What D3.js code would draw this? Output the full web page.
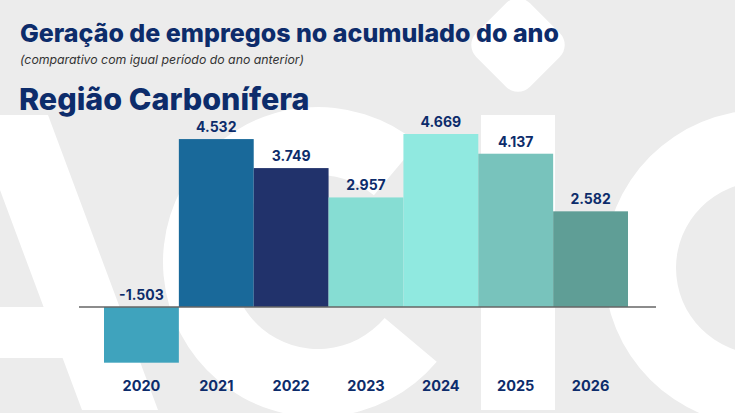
<!DOCTYPE html>
<html>
<head>
<meta charset="utf-8">
<script src="https://cdn.jsdelivr.net/npm/d3@7"></script>
<style>
  html, body { margin: 0; padding: 0; background: #ececec; }
  svg { display: block; font-family: Inter, "Noto Sans", sans-serif; }
</style>
</head>
<body>
<svg id="chart"></svg>
<script>
// data
const years = ['2020', '2021', '2022', '2023', '2024', '2025', '2026'];
const values = [-1503, 4532, 3749, 2957, 4669, 4137, 2582];
const valueLabels = ['-1.503', '4.532', '3.749', '2.957', '4.669', '4.137', '2.582'];
const barColors = ['#3fa3bd', '#19699a', '#21326b', '#86ddd3', '#90e9e0', '#78c3bc', '#5f9e96'];

const width = 735, height = 413;
const navy = '#0d2c6b';

const svg = d3.select('#chart')
    .attr('width', width)
    .attr('height', height);

svg.append('rect')
    .attr('width', width)
    .attr('height', height)
    .attr('fill', '#ececec');

// watermark letters (white shapes in the background)
const bg = svg.append('g').attr('fill', '#ffffff');

// "A" right leg + crossbar
bg.append('polygon')
    .attr('points', '-60,115 48,115 158,410 82,410 -28,115');
bg.append('rect')
    .attr('x', -10).attr('y', 307).attr('width', 80).attr('height', 51);

// first "C"
const arcC = d3.arc();
bg.append('path')
    .attr('transform', 'translate(318,262)')
    .attr('d', arcC({ innerRadius: 87, outerRadius: 155,
        startAngle: 130 * Math.PI / 180, endAngle: 400 * Math.PI / 180 }));

// "I"
bg.append('rect')
    .attr('x', 481).attr('y', 115).attr('width', 74).attr('height', 295);

// second "C"
bg.append('path')
    .attr('transform', 'translate(762,268)')
    .attr('d', arcC({ innerRadius: 86, outerRadius: 158,
        startAngle: 0, endAngle: 2 * Math.PI }));

// logo diamond top right
bg.append('rect')
    .attr('x', -38).attr('y', -38).attr('width', 76).attr('height', 76)
    .attr('rx', 17)
    .attr('transform', 'translate(518,45) rotate(45)');

// titles
svg.append('text')
    .attr('x', 20).attr('y', 42)
    .attr('fill', navy)
    .style('font-size', '25px')
    .style('font-weight', 800)
    .text('Geração de empregos no acumulado do ano');

svg.append('text')
    .attr('x', 20).attr('y', 64)
    .attr('fill', '#333333')
    .style('font-size', '12.3px')
    .style('font-style', 'italic')
    .text('(comparativo com igual período do ano anterior)');

svg.append('text')
    .attr('x', 19).attr('y', 110)
    .attr('fill', navy)
    .style('font-size', '30.5px')
    .style('font-weight', 800)
    .text('Região Carbonífera');

// scales
const x = d3.scaleBand()
    .domain(years)
    .range([104, 628])
    .padding(0);

const y = d3.scaleLinear()
    .domain([0, 4669])
    .range([307, 134]);

const data = years.map((yr, i) => ({ year: yr, value: values[i], label: valueLabels[i], color: barColors[i] }));

const chart = svg.append('g');

chart.selectAll('rect.bar')
    .data(data)
    .enter()
    .append('rect')
    .attr('class', 'bar')
    .attr('x', d => x(d.year))
    .attr('width', x.bandwidth())
    .attr('y', d => y(Math.max(0, d.value)))
    .attr('height', d => Math.abs(y(d.value) - y(0)))
    .attr('fill', d => d.color);

// zero line
chart.append('line')
    .attr('x1', x.range()[0] - 25)
    .attr('x2', x.range()[1] + 28)
    .attr('y1', y(0))
    .attr('y2', y(0))
    .attr('stroke', '#666666')
    .attr('stroke-width', 1.3);

// value labels
chart.selectAll('text.value')
    .data(data)
    .enter()
    .append('text')
    .attr('class', 'value')
    .attr('x', d => x(d.year) + x.bandwidth() / 2)
    .attr('y', d => y(Math.max(0, d.value)) - 7)
    .attr('text-anchor', 'middle')
    .attr('fill', navy)
    .style('font-size', '14px')
    .style('font-weight', 700)
    .text(d => d.label);

// x axis labels
const xAxis = d3.axisBottom(x).tickSize(0).tickPadding(0);
const axisG = chart.append('g')
    .attr('transform', 'translate(0,381)')
    .call(xAxis);
axisG.select('.domain').remove();
axisG.selectAll('text')
    .attr('fill', navy)
    .attr('dy', '0.71em')
    .style('font-family', 'Inter, "Noto Sans", sans-serif')
    .style('font-size', '14.5px')
    .style('font-weight', 700);
</script>
</body>
</html>
